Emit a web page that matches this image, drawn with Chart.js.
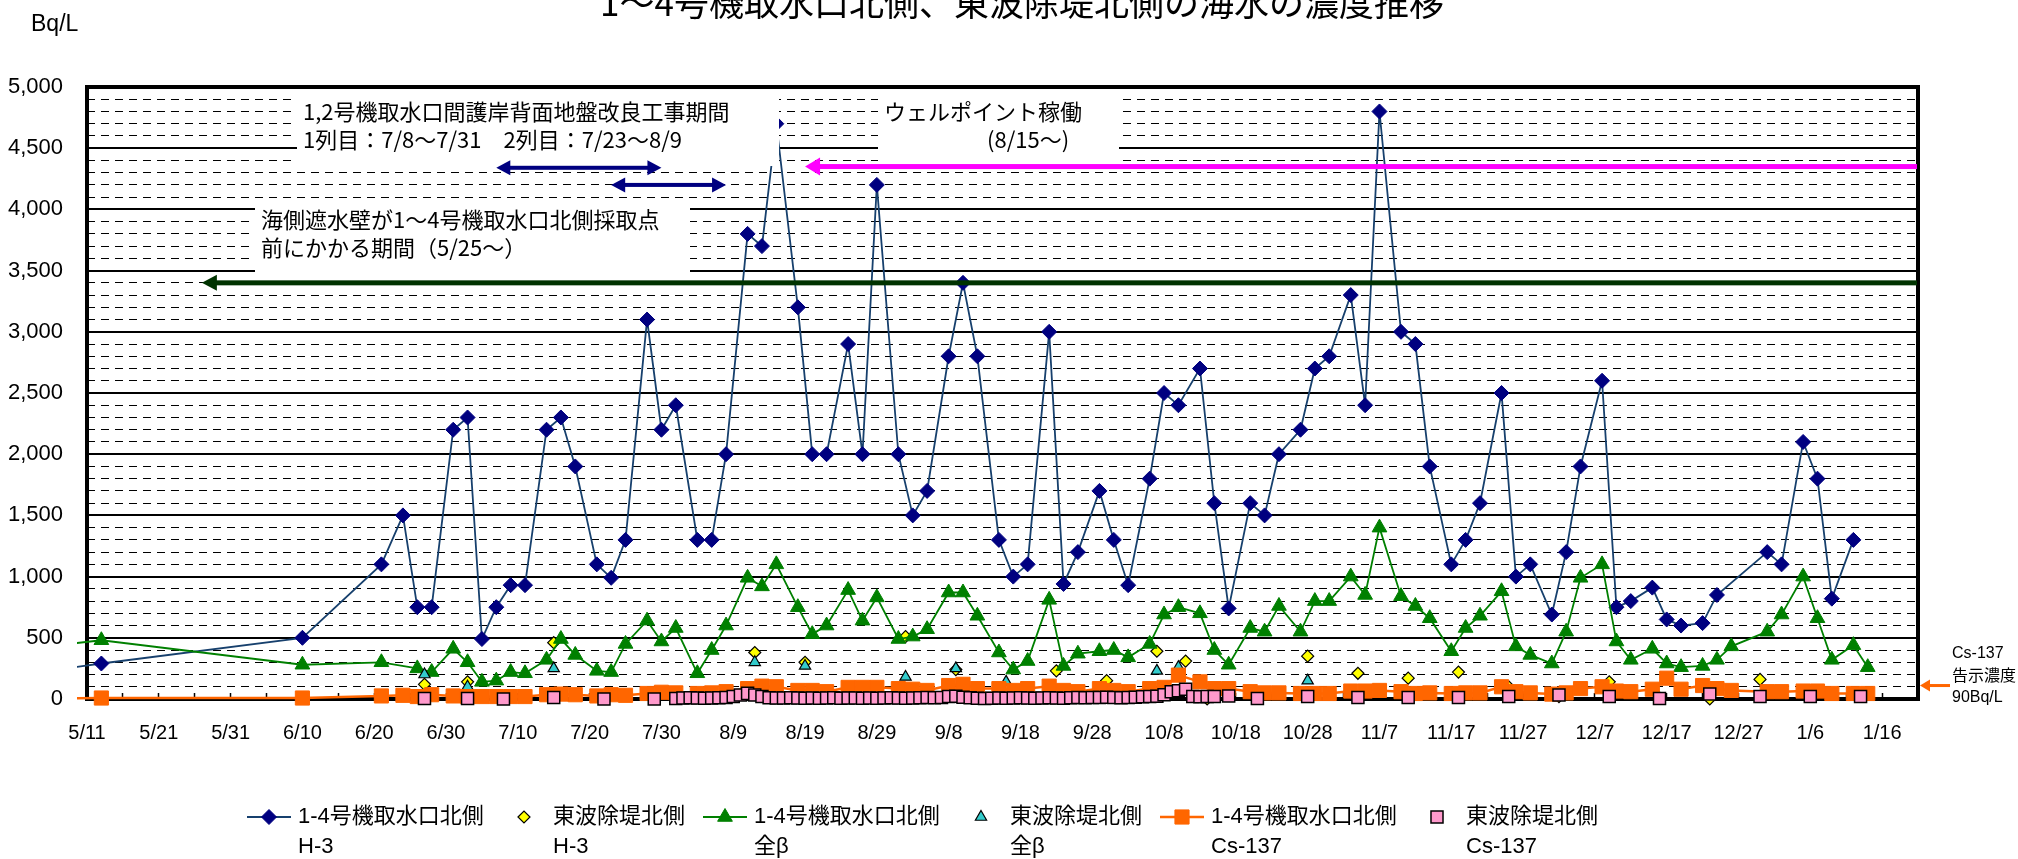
<!DOCTYPE html>
<html lang="ja">
<head>
<meta charset="utf-8">
<title>1～4号機取水口北側、東波除堤北側の海水の濃度推移</title>
<script src="https://cdn.jsdelivr.net/npm/chart.js@4.4.1/dist/chart.umd.min.js"></script>
<style>
  html, body { margin: 0; padding: 0; background: #fff; }
  canvas { display: block; }
</style>
</head>
<body>
<canvas id="chart" width="2018" height="859"></canvas>
<script>
// 日付は 2013/5/11 からの経過日数に換算して横軸に置く
const BASE_DATE = Date.UTC(2013, 4, 11);

// 1-4号機取水口北側（H-3 / 全β / Cs-137 共通の採取日）
const intakeDates = [
  '5/1', '5/13',
  '6/10', '6/21', '6/24', '6/26', '6/28',
  '7/1', '7/3', '7/5', '7/7', '7/9', '7/11', '7/14', '7/16', '7/18', '7/21', '7/23', '7/25', '7/28', '7/30',
  '8/1', '8/4', '8/6', '8/8', '8/11', '8/13', '8/15', '8/18', '8/20', '8/22', '8/25', '8/27', '8/29',
  '9/1', '9/3', '9/5', '9/8', '9/10', '9/12', '9/15', '9/17', '9/19', '9/22', '9/24', '9/26', '9/29',
  '10/1', '10/3', '10/6', '10/8', '10/10', '10/13', '10/15', '10/17', '10/20', '10/22', '10/24', '10/27', '10/29', '10/31',
  '11/3', '11/5', '11/7', '11/10', '11/12', '11/14', '11/17', '11/19', '11/21', '11/24', '11/26', '11/28',
  '12/1', '12/3', '12/5', '12/8', '12/10', '12/12', '12/15', '12/17', '12/19', '12/22', '12/24', '12/26', '12/31',
  '1/2', '1/5', '1/7', '1/9', '1/12', '1/14'
];
const intakeH3 = [
  190, 290,
  500, 1100, 1500, 750, 750,
  2200, 2300, 490, 750, 930, 930, 2200, 2300, 1900, 1100, 990, 1300, 3100, 2200,
  2400, 1300, 1300, 2000, 3800, 3700, 4700, 3200, 2000, 2000, 2900, 2000, 4200,
  2000, 1500, 1700, 2800, 3400, 2800, 1300, 1000, 1100, 3000, 940, 1200, 1700,
  1300, 930, 1800, 2500, 2400, 2700, 1600, 740, 1600, 1500, 2000, 2200, 2700, 2800,
  3300, 2400, 4800, 3000, 2900, 1900, 1100, 1300, 1600, 2500, 1000, 1100,
  690, 1200, 1900, 2600, 750, 800, 910, 650, 600, 620, 850, null, 1200,
  1100, 2100, 1800, 820, 1300, null
];
const intakeBeta = [
  400, 480,
  280, 300, null, 250, 220,
  410, 300, 140, 150, 220, 210, 320, 490, 360, 230, 220, 450, 640, 470,
  580, 210, 400, 600, 990, 920, 1100, 750, 530, 600, 890, 640, 830,
  490, 510, 570, 870, 870, 680, 380, 240, 310, 810, 270, 370, 390,
  400, 340, 450, 690, 750, 700, 400, 280, 580, 550, 760, 550, 800, 800,
  1000, 850, 1400, 840, 760, 660, 390, 580, 680, 880, 430, 360,
  290, 550, 990, 1100, 470, 320, 410, 290, 260, 270, 320, 430, 550,
  690, 1000, 660, 320, 440, 260
];
const intakeCs137 = [
  0, 8,
  8, 25, 30, 20, 35,
  25, 20, 20, 20, 20, 20, 35, 40, 35, 25, 35, 30, 45, 55,
  50, 45, 50, 60, 85, 105, 100, 70, 70, 60, 95, 95, 95,
  85, 80, 70, 110, 120, 85, 85, 70, 85, 105, 70, 60, 85,
  70, 60, 85, 95, 195, 140, 85, 85, 60, 50, 50, 45, 45, 45,
  65, 65, 70, 60, 45, 50, 45, 50, 50, 100, 60, 50,
  40, 50, 85, 100, 65, 60, 80, 170, 80, 110, 85, 70, 60,
  60, 65, 65, 45, 45, 45
];

// 東波除堤北側
const breakwaterH3Dates = ['6/27', '7/3', '7/15', '8/12', '8/19', '9/2', '9/9', '9/23', '9/30', '10/7', '10/11', '10/14',
  '10/28', '11/4', '11/11', '11/18', '11/25', '12/2', '12/9', '12/16', '12/23', '12/30'];
const breakwaterH3 = [120, 140, 460, 380, 300, 510, 240, 230, 150, 390, 310, 0,
  350, 210, 170, 220, 100, 20, 140, 10, 0, 160];

const breakwaterBetaDates = ['6/27', '7/3', '7/15', '8/12', '8/19', '9/2', '9/9', '9/16', '10/7', '10/10', '10/28', '11/25', '12/2'];
const breakwaterBeta = [200, 100, 250, 300, 270, 180, 250, 140, 230, 260, 150, 60, 40];

const breakwaterCsDates = [
  '6/27', '7/3', '7/8', '7/15', '7/22', '7/29',
  '8/1', '8/2', '8/3', '8/4', '8/5', '8/6', '8/7', '8/8', '8/9', '8/10', '8/11', '8/12', '8/13', '8/14', '8/15', '8/16',
  '8/17', '8/18', '8/19', '8/20', '8/21', '8/22', '8/23', '8/24', '8/25', '8/26', '8/27', '8/28', '8/29', '8/30', '8/31',
  '9/1', '9/2', '9/3', '9/4', '9/5', '9/6', '9/7', '9/8', '9/9', '9/10', '9/11', '9/12', '9/13', '9/14', '9/15', '9/16',
  '9/17', '9/18', '9/19', '9/20', '9/21', '9/22', '9/23', '9/24', '9/25', '9/26', '9/27', '9/28', '9/29', '9/30',
  '10/1', '10/2', '10/3', '10/4', '10/5', '10/6', '10/7', '10/8', '10/9', '10/10', '10/11', '10/12', '10/13', '10/14', '10/15',
  '10/17', '10/21', '10/28', '11/4', '11/11', '11/18', '11/25', '12/2', '12/9', '12/16', '12/23', '12/30', '1/6', '1/13'
];
const breakwaterCs137 = [
  5, 5, 0, 12, 0, 0,
  5, 8, 10, 8, 6, 8, 10, 12, 20, 33, 46, 33, 20, 10, 8, 8,
  10, 8, 6, 8, 6, 8, 10, 6, 8, 8, 6, 8, 6, 8, 10,
  8, 6, 8, 10, 12, 10, 12, 20, 22, 15, 10, 6, 5, 6, 8, 6,
  8, 10, 8, 6, 8, 10, 8, 6, 10, 12, 10, 12, 12, 14,
  12, 10, 12, 15, 18, 20, 22, 35, 60, 68, 80, 20, 18, 20, 20,
  25, 5, 20, 12, 12, 12, 20, 33, 20, 5, 40, 20, 20, 20
];

const legendNames = [
  ['1-4号機取水口北側', 'H-3'],
  ['東波除堤北側', 'H-3'],
  ['1-4号機取水口北側', '全β'],
  ['東波除堤北側', '全β'],
  ['1-4号機取水口北側', 'Cs-137'],
  ['東波除堤北側', 'Cs-137']
];

const LATIN = "'Liberation Sans', 'Noto Sans CJK JP', sans-serif";
const CJK = "'Noto Sans CJK JP', sans-serif";

function toDay(md) {
  const [m, d] = md.split('/').map(Number);
  const year = m >= 5 ? 2013 : 2014;
  return Math.round((Date.UTC(year, m - 1, d) - BASE_DATE) / 86400000);
}

function dayLabel(v) {
  const dt = new Date(BASE_DATE + v * 86400000);
  return (dt.getUTCMonth() + 1) + '/' + dt.getUTCDate();
}

function series(dates, values) {
  return dates.map((d, i) => ({ x: toDay(d), y: values[i] }));
}

// 注記（テキストボックス・矢印）
const noteBoxes = [
  { rect: [297, 89, 482, 77], lines: [['1,2号機取水口間護岸背面地盤改良工事期間', 303, 112], ['1列目：7/8～7/31　2列目：7/23～8/9', 303, 140]] },
  { rect: [878, 89, 241, 73], lines: [['ウェルポイント稼働', 884, 112], ['(8/15～)', 987, 140]] },
  { rect: [255, 204, 435, 71], lines: [['海側遮水壁が1～4号機取水口北側採取点', 261, 220], ['前にかかる期間（5/25～）', 261, 248]] }
];
const arrowNotes = [
  { from: '5/27', to: null, value: 3400, color: '#003300', both: false, shaft: 5, head: 15, half: 8 },
  { from: '8/19', to: null, value: 4350, color: '#FF00FF', both: false, shaft: 5, head: 15, half: 9 },
  { from: '7/7', to: '7/30', value: 4340, color: '#000080', both: true, shaft: 4, head: 14, half: 7.5 },
  { from: '7/23', to: '8/8', value: 4200, color: '#000080', both: true, shaft: 4, head: 14, half: 7.5 }
];
const legendSlots = [247, 514, 703, 971, 1160, 1427];

function drawArrow(ctx, x1, x2, y, o) {
  ctx.save();
  ctx.fillStyle = o.color;
  const l = x1 + o.head, r = o.both ? x2 - o.head : x2;
  ctx.fillRect(l - 1, y - o.shaft / 2, r - l + 2, o.shaft);
  ctx.beginPath();
  ctx.moveTo(x1, y); ctx.lineTo(x1 + o.head, y - o.half); ctx.lineTo(x1 + o.head, y + o.half);
  ctx.closePath(); ctx.fill();
  if (o.both) {
    ctx.beginPath();
    ctx.moveTo(x2, y); ctx.lineTo(x2 - o.head, y - o.half); ctx.lineTo(x2 - o.head, y + o.half);
    ctx.closePath(); ctx.fill();
  }
  ctx.restore();
}

const notesPlugin = {
  id: 'notes',
  beforeDraw(chart) {
    const { ctx, width, height } = chart;
    ctx.save();
    ctx.fillStyle = '#fff';
    ctx.fillRect(0, 0, width, height);
    ctx.restore();
  },
  beforeDatasetsDraw(chart) {
    const { ctx, chartArea: a } = chart;
    ctx.save();
    ctx.strokeStyle = '#000';
    ctx.lineWidth = 4;
    ctx.strokeRect(a.left, a.top, a.right - a.left, a.bottom - a.top);
    ctx.restore();
  },
  afterDatasetsDraw(chart) {
    const { ctx, chartArea: a, scales } = chart;
    ctx.save();
    noteBoxes.forEach(b => {
      ctx.fillStyle = '#fff';
      ctx.fillRect(...b.rect);
      ctx.fillStyle = '#000';
      ctx.font = '22px ' + CJK;
      ctx.textAlign = 'left';
      ctx.textBaseline = 'middle';
      b.lines.forEach(([t, x, y]) => ctx.fillText(t, x, y));
    });
    ctx.restore();
    arrowNotes.forEach(n => {
      const x1 = scales.x.getPixelForValue(toDay(n.from));
      const x2 = n.to ? scales.x.getPixelForValue(toDay(n.to)) : a.right - 2;
      drawArrow(ctx, x1, x2, scales.y.getPixelForValue(n.value), n);
    });
  },
  afterDraw(chart) {
    const { ctx, chartArea: a, scales } = chart;
    ctx.save();
    // タイトル（上端で切れている）
    ctx.fillStyle = '#000';
    ctx.font = '35px ' + CJK;
    ctx.textAlign = 'center';
    ctx.textBaseline = 'alphabetic';
    ctx.fillText('1～4号機取水口北側、東波除堤北側の海水の濃度推移', 1022, 16);
    // 単位
    ctx.font = '23px ' + LATIN;
    ctx.textAlign = 'left';
    ctx.textBaseline = 'middle';
    ctx.fillText('Bq/L', 31, 25);
    // 告示濃度
    ctx.font = '16px ' + LATIN;
    ctx.fillText('Cs-137', 1952, 654);
    ctx.fillText('告示濃度', 1952, 677);
    ctx.fillText('90Bq/L', 1952, 698);
    drawArrow(ctx, a.right + 2, 1949, scales.y.getPixelForValue(110), { color: '#FF6600', both: false, shaft: 3, head: 10, half: 6 });

    // 凡例
    chart.data.datasets.forEach((ds, i) => {
      const slot = legendSlots[i];
      const y = 817;
      let mx = slot + 10, tx = slot + 39;
      if (ds.showLine !== false) {
        ctx.strokeStyle = ds.borderColor;
        ctx.lineWidth = ds.borderWidth;
        ctx.beginPath();
        ctx.moveTo(slot, y); ctx.lineTo(slot + 44, y);
        ctx.stroke();
        mx = slot + 22; tx = slot + 51;
      }
      ctx.fillStyle = ds.pointBackgroundColor;
      ctx.strokeStyle = ds.pointBorderColor;
      ctx.lineWidth = ds.pointBorderWidth;
      Chart.helpers.drawPoint(ctx, { pointStyle: ds.pointStyle, radius: ds.pointRadius, borderWidth: ds.pointBorderWidth, rotation: 0 }, mx, y);
      ctx.fillStyle = '#000';
      ctx.font = '22px ' + LATIN;
      ctx.textAlign = 'left';
      ctx.textBaseline = 'middle';
      ctx.fillText(legendNames[i][0], tx, y);
      ctx.fillText(legendNames[i][1], tx, y + 30);
    });
    ctx.restore();
  }
};

const clipArea = { left: 10, top: 10, right: 10, bottom: 20 };

const chart = new Chart(document.getElementById('chart'), {
  type: 'line',
  data: {
    datasets: [
      {
        label: '1-4号機取水口北側 H-3',
        data: series(intakeDates, intakeH3),
        borderColor: '#17406D', borderWidth: 1.8, spanGaps: true,
        pointStyle: 'rectRot', pointRadius: 7.5,
        pointBackgroundColor: '#000080', pointBorderColor: '#000080', pointBorderWidth: 1,
        order: 6, clip: clipArea
      },
      {
        label: '東波除堤北側 H-3',
        data: series(breakwaterH3Dates, breakwaterH3),
        showLine: false,
        pointStyle: 'rectRot', pointRadius: 6,
        pointBackgroundColor: '#FFFF00', pointBorderColor: '#000000', pointBorderWidth: 1.2,
        order: 5, clip: clipArea
      },
      {
        label: '1-4号機取水口北側 全β',
        data: series(intakeDates, intakeBeta),
        borderColor: '#008000', borderWidth: 1.8, spanGaps: true,
        pointStyle: 'triangle', pointRadius: 8.5,
        pointBackgroundColor: '#008000', pointBorderColor: '#008000', pointBorderWidth: 1,
        order: 4, clip: clipArea
      },
      {
        label: '東波除堤北側 全β',
        data: series(breakwaterBetaDates, breakwaterBeta),
        showLine: false,
        pointStyle: 'triangle', pointRadius: 6.5,
        pointBackgroundColor: '#33CCCC', pointBorderColor: '#000000', pointBorderWidth: 1.2,
        order: 3, clip: clipArea
      },
      {
        label: '1-4号機取水口北側 Cs-137',
        data: series(intakeDates, intakeCs137),
        borderColor: '#FF6600', borderWidth: 2.5, spanGaps: true,
        pointStyle: 'rect', pointRadius: 10,
        pointBackgroundColor: '#FF6600', pointBorderColor: '#FF6600', pointBorderWidth: 1,
        order: 2, clip: clipArea
      },
      {
        label: '東波除堤北側 Cs-137',
        data: series(breakwaterCsDates, breakwaterCs137),
        showLine: false,
        pointStyle: 'rect', pointRadius: 8.5,
        pointBackgroundColor: '#FF99CC', pointBorderColor: '#000000', pointBorderWidth: 1.5,
        order: 1, clip: clipArea
      }
    ]
  },
  options: {
    responsive: false,
    animation: false,
    devicePixelRatio: 1,
    layout: { padding: { left: 0, top: 87, right: 100, bottom: 100 } },
    elements: { line: { tension: 0 } },
    plugins: {
      legend: { display: false },
      tooltip: { enabled: false },
      title: { display: false }
    },
    scales: {
      x: {
        type: 'linear',
        min: 0,
        max: 255,
        ticks: {
          stepSize: 5,
          autoSkip: false,
          maxRotation: 0,
          minRotation: 0,
          padding: 28,
          color: '#000',
          font: { family: LATIN, size: 20 },
          callback: v => (v % 10 === 0 ? dayLabel(v) : '')
        },
        grid: { drawOnChartArea: false, drawTicks: true, tickLength: -6, tickColor: '#000', tickWidth: 1.5 },
        border: { display: false },
        afterFit: s => { s.height = 60; }
      },
      y: {
        min: 0,
        max: 5000,
        ticks: {
          stepSize: 500,
          padding: 24,
          color: '#000',
          font: { family: LATIN, size: 22 },
          callback: v => v.toLocaleString('en-US')
        },
        grid: { color: '#000', lineWidth: 2, drawTicks: false },
        border: { display: false },
        afterFit: s => { s.width = 87; }
      },
      yMinor: {
        position: 'left',
        min: 0,
        max: 5000,
        ticks: { stepSize: 100, display: false },
        grid: {
          color: c => (c.tick && c.tick.value % 500 === 0 ? 'rgba(0,0,0,0)' : '#000'),
          lineWidth: 1,
          drawTicks: false
        },
        border: { display: false, dash: [8, 6] },
        afterFit: s => { s.width = 0; }
      }
    }
  },
  plugins: [notesPlugin]
});
</script>
</body>
</html>
